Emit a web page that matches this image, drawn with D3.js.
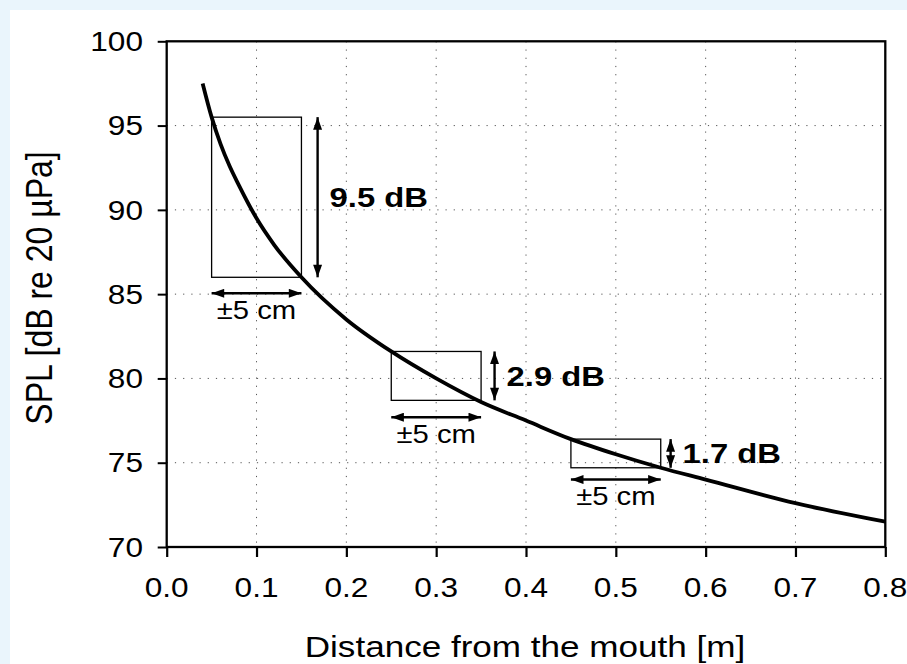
<!DOCTYPE html>
<html>
<head>
<meta charset="utf-8">
<script src="https://cdn.jsdelivr.net/npm/d3@7"></script>
<style>
  body { margin: 0; background: #eaf5fc; }
  svg { display: block; }
  text { font-family: Arial, "Liberation Sans", sans-serif; fill: #000; }
</style>
</head>
<body>
<svg id="chart" width="907" height="664"></svg>
<script>
// curve: distance [m] -> SPL [dB]
const distances = [0.04, 0.05, 0.06, 0.07, 0.08, 0.10, 0.12, 0.15, 0.20, 0.25, 0.30, 0.35, 0.40, 0.45, 0.50, 0.55, 0.60, 0.70, 0.80];
const splValues = [97.5, 95.5, 93.9, 92.6, 91.5, 89.5, 87.9, 86.0, 83.5, 81.6, 80.0, 78.6, 77.5, 76.4, 75.5, 74.7, 74.0, 72.6, 71.5];

// the three ±5 cm windows
const boxStart = [0.05, 0.25, 0.45];
const boxEnd = [0.15, 0.35, 0.55];
const boxTop = [95.5, 81.6, 76.4];
const boxBottom = [86.0, 78.7, 74.7];
const dbArrowX = [0.168, 0.365, 0.561];
const cmArrowY = [85.05, 77.7, 74.0];
const dbLabels = ["9.5 dB", "2.9 dB", "1.7 dB"];
const cmLabels = ["±5 cm", "±5 cm", "±5 cm"];

const xTicks = [0, 0.1, 0.2, 0.3, 0.4, 0.5, 0.6, 0.7, 0.8];
const yTicks = [70, 75, 80, 85, 90, 95, 100];
const xTitle = "Distance from the mouth [m]";
const yTitle = "SPL [dB re 20 µPa]";

const STRETCH = 1.17; // the picture is a bit wider than tall glyphs suggest

class SplChart {
  constructor(selector) {
    this.svg = d3.select(selector);
    this.init();
    this.render();
  }

  init() {
    this.left = 166.7;
    this.right = 885.3;
    this.top = 41.3;
    this.bottom = 547;

    this.x = d3.scaleLinear().domain([0, 0.8]).range([this.left, this.right]);
    this.y = d3.scaleLinear().domain([70, 100]).range([this.bottom, this.top]);

    const defs = this.svg.append("defs");
    defs.append("marker")
      .attr("id", "head")
      .attr("markerUnits", "userSpaceOnUse")
      .attr("viewBox", "0 -5 14 10")
      .attr("refX", 14)
      .attr("refY", 0)
      .attr("markerWidth", 14)
      .attr("markerHeight", 9)
      .attr("orient", "auto-start-reverse")
      .append("path")
      .attr("d", "M0,-5L14,0L0,5Z")
      .attr("fill", "#000");
  }

  label(g, txt, x, y, size, anchor, extra = "") {
    return g.append("text")
      .attr("transform", `translate(${x},${y}) scale(${STRETCH},1) ${extra}`)
      .attr("text-anchor", anchor)
      .style("font-size", `${size}px`)
      .text(txt);
  }

  render() {
    const { x, y } = this;

    this.svg.append("rect")
      .attr("x", 10).attr("y", 10)
      .attr("width", 897).attr("height", 654)
      .attr("fill", "#fff");

    const g = this.svg.append("g");

    // dotted grid
    g.selectAll(".vgrid")
      .data(xTicks.slice(1, -1))
      .join("line")
      .attr("x1", d => x(d)).attr("x2", d => x(d))
      .attr("y1", this.top).attr("y2", this.bottom)
      .attr("stroke", "#555").attr("stroke-width", 1)
      .attr("stroke-dasharray", "1.2,7");

    g.selectAll(".hgrid")
      .data(yTicks.slice(1, -1))
      .join("line")
      .attr("x1", this.left).attr("x2", this.right)
      .attr("y1", d => y(d)).attr("y2", d => y(d))
      .attr("stroke", "#555").attr("stroke-width", 1)
      .attr("stroke-dasharray", "1.2,7");

    // axes
    const xAxis = d3.axisBottom(x).tickValues(xTicks).tickSize(10).tickFormat("");
    const yAxis = d3.axisLeft(y).tickValues(yTicks).tickSize(9).tickFormat("");
    g.append("g").attr("transform", `translate(0,${this.bottom})`).call(xAxis)
      .call(a => a.selectAll("line").attr("stroke-width", 2.2))
      .call(a => a.select(".domain").remove());
    g.append("g").attr("transform", `translate(${this.left},0)`).call(yAxis)
      .call(a => a.selectAll("line").attr("stroke-width", 2))
      .call(a => a.select(".domain").remove());

    g.append("rect")
      .attr("x", this.left).attr("y", this.top)
      .attr("width", this.right - this.left).attr("height", this.bottom - this.top)
      .attr("fill", "none").attr("stroke", "#000").attr("stroke-width", 2.3);

    xTicks.forEach(t => this.label(g, t.toFixed(1), x(t), 597, 27, "middle"));
    yTicks.forEach(t => this.label(g, t, 143, y(t) + 9.7, 27, "end"));

    this.label(g, xTitle, 525, 657, 30, "middle");
    this.label(g, yTitle, 52, 288, 32, "middle", "rotate(-90)");

    // windows
    const idx = d3.range(boxStart.length);
    g.selectAll(".box")
      .data(idx)
      .join("rect")
      .attr("x", i => x(boxStart[i]))
      .attr("y", i => y(boxTop[i]))
      .attr("width", i => x(boxEnd[i]) - x(boxStart[i]))
      .attr("height", i => y(boxBottom[i]) - y(boxTop[i]))
      .attr("fill", "none").attr("stroke", "#000").attr("stroke-width", 1.3);

    // curve
    const line = d3.line()
      .x((d, i) => x(distances[i]))
      .y(d => y(d))
      .curve(d3.curveMonotoneX);
    g.append("path")
      .attr("d", line(splValues))
      .attr("fill", "none").attr("stroke", "#000").attr("stroke-width", 3.8);

    // arrows
    g.selectAll(".dbArrow")
      .data(idx)
      .join("line")
      .attr("x1", i => x(dbArrowX[i])).attr("x2", i => x(dbArrowX[i]))
      .attr("y1", i => y(boxTop[i])).attr("y2", i => y(boxBottom[i]))
      .attr("stroke", "#000").attr("stroke-width", 2.4)
      .attr("marker-start", "url(#head)").attr("marker-end", "url(#head)");

    g.selectAll(".cmArrow")
      .data(idx)
      .join("line")
      .attr("x1", i => x(boxStart[i])).attr("x2", i => x(boxEnd[i]))
      .attr("y1", i => y(cmArrowY[i])).attr("y2", i => y(cmArrowY[i]))
      .attr("stroke", "#000").attr("stroke-width", 2.4)
      .attr("marker-start", "url(#head)").attr("marker-end", "url(#head)");

    idx.forEach(i => {
      const mid = (y(boxTop[i]) + y(boxBottom[i])) / 2;
      this.label(g, dbLabels[i], x(dbArrowX[i]) + 12, mid + 10, 28, "start")
        .style("font-weight", "bold");
      this.label(g, cmLabels[i], (x(boxStart[i]) + x(boxEnd[i])) / 2, y(cmArrowY[i]) + 25.5, 25, "middle");
    });
  }
}

document.addEventListener("DOMContentLoaded", () => {
  new SplChart("#chart");
});
</script>
</body>
</html>
